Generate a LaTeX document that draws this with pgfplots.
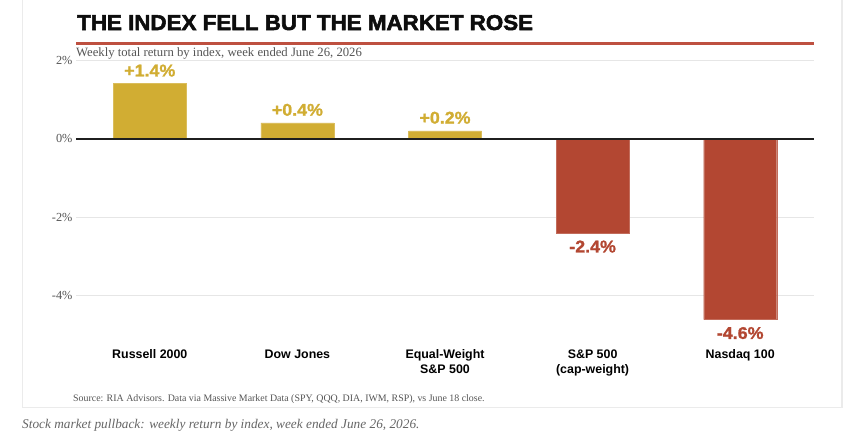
\documentclass[border=0pt]{standalone}
\usepackage{pgfplots}
\pgfplotsset{compat=1.18}
\usepackage{fontspec}
\setmainfont{Liberation Serif}
\newfontfamily\headfont[FakeBold=2.5,FakeStretch=1.04]{Liberation Sans Bold}
\newfontfamily\boldsans{Liberation Sans Bold}
\newfontfamily\lblfont[FakeBold=1.2,FakeStretch=1.05]{Liberation Sans Bold}
\definecolor{gold}{HTML}{D1AD33}
\definecolor{rust}{HTML}{B34732}
\definecolor{rule}{HTML}{BE5040}
\definecolor{gridc}{HTML}{E6E6E6}
\definecolor{cardc}{HTML}{EBEBEB}
\definecolor{txtg}{HTML}{555555}
\pgfplotstableread{
x y
0 1.4
1 0.4
2 0.2
}\pos
\pgfplotstableread{
x y
3 -2.4
4 -4.6
}\negt
\begin{document}
\begin{tikzpicture}[x=1pt,y=1pt]
\useasboundingbox (0,0) rectangle (858,-445);
\fill[white] (0,0) rectangle (858,-445);
\draw[cardc,line width=1.2pt] (22.7,0) -- (22.7,-407.5) -- (842,-407.5) -- (842,0);
\node[anchor=base west,inner sep=0,font=\headfont\fontsize{21.5}{21.5}\selectfont,text=black!95] at (77,-30) {THE INDEX FELL BUT THE MARKET ROSE};
\draw[rule,line width=2.4pt] (76,-43.5) -- (814,-43.5);
\begin{axis}[
  at={(76pt,-343.1pt)}, anchor=south west,
  scale only axis, width=738pt, height=283.1pt,
  xmin=-0.5, xmax=4.5, ymin=-5.2, ymax=2,
  axis line style={draw=none}, clip=false,
  ybar, bar width=73pt, bar shift=0pt,
  ytick={-4,-2,0,2},
  yticklabel={\pgfmathprintnumber{\tick}\%},
  xtick={0,1,2,3,4},
  xticklabels={Russell 2000, Dow Jones, {Equal-Weight\\S\&P 500}, {S\&P 500\\(cap-weight)}, Nasdaq 100},
  xticklabel style={font=\boldsans\fontsize{12.4}{14.8}\selectfont, align=center, text=black, yshift=-3pt},
  yticklabel style={font=\fontsize{12.3}{12.3}\selectfont, text=txtg, xshift=0pt},
  /pgf/number format/assume math mode=true,
  major tick length=0pt,
  ymajorgrids, grid style={gridc, line width=1pt},
  nodes near coords={\pgfmathprintnumber[showpos,fixed,precision=1,fixed zerofill]{\pgfplotspointmeta}\%},
  nodes near coords style={font=\lblfont\fontsize{17}{17}\selectfont},
]
\addplot[fill=gold, draw=gold!80!white, nodes near coords style={text=gold, anchor=south, yshift=3.5pt}] table[x=x,y=y] {\pos};
\addplot[fill=rust, draw=rust!80!white, nodes near coords style={text=rust, anchor=north, yshift=-4pt}] table[x=x,y=y] {\negt};
\draw[black!88, line width=2pt] (axis cs:-0.5,0) -- (axis cs:4.5,0);
\end{axis}
\node[anchor=base west,inner sep=0,font=\fontsize{12.7}{12.7}\selectfont,text=txtg] at (76,-56) {Weekly total return by index, week ended June 26, 2026};
\node[anchor=base west,inner sep=0,font=\fontsize{9.9}{9.9}\selectfont,text=txtg] at (73,-401) {Source: RIA Advisors. Data via Massive Market Data (SPY, QQQ, DIA, IWM, RSP), vs June 18 close.};
\node[anchor=base west,inner sep=0,font=\itshape\fontsize{13.3}{13.3}\selectfont,text=black!60] at (22,-428) {Stock market pullback: weekly return by index, week ended June 26, 2026.};
\end{tikzpicture}
\end{document}
